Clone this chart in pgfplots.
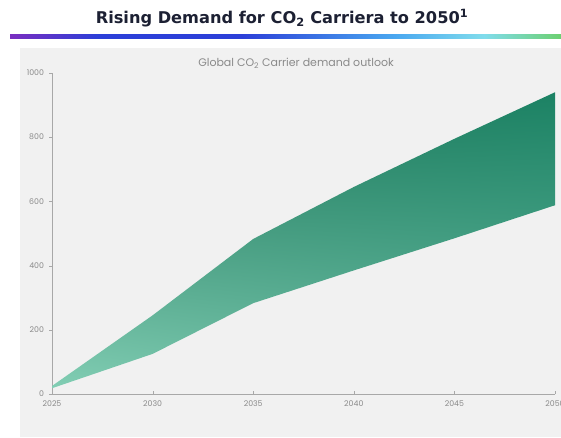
\documentclass[border=0pt]{standalone}
\usepackage{pgfplots}
\pgfplotsset{compat=1.18}
\usetikzlibrary{shadings}
\usepackage{fontspec}
\setmainfont{DejaVu Sans}
\newfontfamily\chartfont{Poppins}
\definecolor{titlecol}{HTML}{1C2033}
\definecolor{panel}{HTML}{F1F1F1}
\definecolor{axcol}{HTML}{A8A8A8}
\definecolor{tickcol}{HTML}{8A8A8A}
\definecolor{gUL}{HTML}{1F7558}
\definecolor{gUR}{HTML}{1C8264}
\definecolor{gLL}{HTML}{82CEB4}
\definecolor{gLR}{HTML}{62B69C}
\definecolor{rbA}{HTML}{7A2EC0}
\definecolor{rbB}{HTML}{2C3FD8}
\definecolor{rbC}{HTML}{4AA8F0}
\definecolor{rbD}{HTML}{80DCEC}
\definecolor{rbE}{HTML}{6CD070}
\pgfdeclarehorizontalshading{rainbowline}{100bp}{color(0bp)=(rbA); color(25bp)=(rbA); color(33bp)=(rbB); color(46bp)=(rbB); color(60bp)=(rbC); color(68bp)=(rbD); color(75bp)=(rbE); color(100bp)=(rbE)}
\begin{document}
\begin{tikzpicture}[x=1pt,y=1pt]
\useasboundingbox (0,0) rectangle (561,437);
\fill[white] (0,0) rectangle (561,437);
\fill[panel] (20,0) rectangle (561,389);
\shade[shading=rainbowline] (10,398.5) rectangle (561,402);
\node[font=\bfseries\fontsize{16.2}{19}\selectfont, text=titlecol] at (282,419) {Rising Demand for CO\textsubscript{2} Carriera to 2050\textsuperscript{1}};
\node[font=\chartfont\fontsize{11}{13}\selectfont, text=tickcol] at (296,374) {Global CO\textsubscript{2} Carrier demand outlook};
\begin{axis}[
  at={(52pt,43pt)}, anchor=origin,
  scale only axis, width=503pt, height=321pt,
  xmin=2025, xmax=2050, ymin=0, ymax=1000,
  axis x line=bottom, axis y line=left,
  axis line style={axcol, -},
  xtick={2025,2030,2035,2040,2045,2050},
  ytick={0,200,400,600,800,1000},
  tick style={axcol},
  major tick length=3pt,
  xtick align=inside, ytick align=outside,
  tick label style={font=\chartfont\fontsize{7.8}{9}\selectfont, text=tickcol},
  /pgf/number format/1000 sep={},
  /pgf/number format/assume math mode=true,
  xticklabel style={yshift=-3.5pt},
  yticklabel style={xshift=-1.5pt},
]
\addplot[draw=none, shading=axis, upper left=gUL, upper right=gUR, lower left=gLL, lower right=gLR] coordinates {
  (2025,25) (2030,245) (2035,483) (2040,645) (2045,795) (2050,940)
  (2050,588) (2045,485) (2040,385) (2035,283) (2030,125) (2025,18)
};
\end{axis}
\end{tikzpicture}
\end{document}
